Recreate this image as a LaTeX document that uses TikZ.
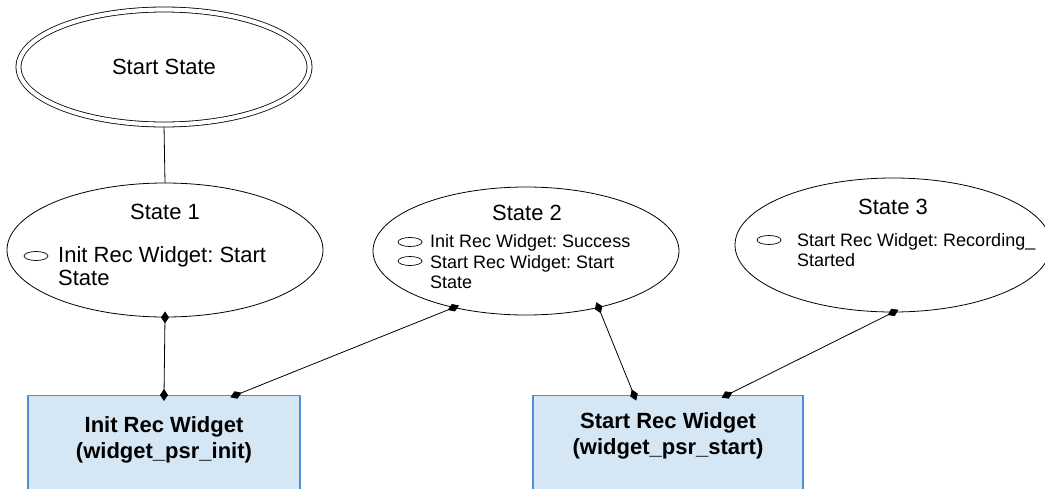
\documentclass[tikz,border=0pt]{standalone}
\usepackage{fontspec}
\setmainfont{Liberation Sans}
\usetikzlibrary{shapes.geometric,arrows.meta}
\definecolor{boxfill}{HTML}{D5E6F5}
\definecolor{boxline}{HTML}{4A8FD8}
\frenchspacing
\begin{document}
\begin{tikzpicture}[
    x=1pt, y=-1pt,
    line cap=round,
    line join=round,
    state/.style={ellipse, draw=black, line width=0.8pt, inner sep=0pt},
    startst/.style={state, double, double distance=4.2pt, font=\fontsize{22}{26}\selectfont},
    bul/.style={ellipse, draw=black, line width=0.7pt, inner sep=0pt, minimum width=24pt, minimum height=9pt},
    head/.style={font=\fontsize{22}{26}\selectfont},
    item/.style={anchor=west, align=left, inner sep=0pt, font=\fontsize{22}{22.5}\selectfont},
    smallitem/.style={anchor=west, align=left, inner sep=0pt, font=\fontsize{18}{20.5}\selectfont},
    widget/.style={rectangle, draw=boxline, fill=boxfill, line width=1.2pt, anchor=north, minimum height=100pt},
    wlab/.style={align=center, font=\bfseries\fontsize{22}{25.5}\selectfont},
    link/.style={draw=black, line width=0.8pt, {Diamond[length=12pt,width=8pt]}-{Diamond[length=12pt,width=8pt]}, shorten <=-6pt, shorten >=-6pt}
]
\useasboundingbox (0,0) rectangle (1045,488);

\node[startst, minimum width=291pt, minimum height=115pt] (st) at (164,67) {Start State};

\node[state, minimum width=316pt, minimum height=134pt] (s1) at (165,250) {};
\node[head] (s1head) at (165,212) {State 1};
\node[bul] (b1) at (36,256) {};
\node[item] (s1text) at (58,266) {Init Rec Widget: Start\\State};

\node[state, minimum width=306pt, minimum height=128pt] (s2) at (526,251) {};
\node[head] (s2head) at (527,213) {State 2};
\node[bul] (b2a) at (410,242) {};
\node[bul] (b2b) at (410,261) {};
\node[smallitem] (s2text) at (430,262) {Init Rec Widget: Success\\Start Rec Widget: Start\\State};

\node[state, minimum width=316pt, minimum height=134pt] (s3) at (893,245) {};
\node[head] (s3head) at (893,207) {State 3};
\node[bul] (b3) at (769,240) {};
\node[smallitem] (s3text) at (797,250) {Start Rec Widget: Recording\_\\Started};

\node[widget, minimum width=272pt] (init) at (164,395) {};
\node[wlab] (initlab) at (164,440) {Init Rec Widget\\(widget\_psr\_init)};

\node[widget, minimum width=270pt] (start) at (668,395) {};
\node[wlab] (startlab) at (668,436) {Start Rec Widget\\(widget\_psr\_start)};

\draw[line width=0.8pt, shorten <=2.5pt] (st.south) -- (s1.north);

\draw[link] (s1.south) -- (init.north);
\draw[link] (s2.218) -- ([xshift=72pt]init.north);
\draw[link] (s2.322) -- ([xshift=-34pt]start.north);
\draw[link] (s3.south) -- ([xshift=59pt]start.north);

\end{tikzpicture}
\end{document}
